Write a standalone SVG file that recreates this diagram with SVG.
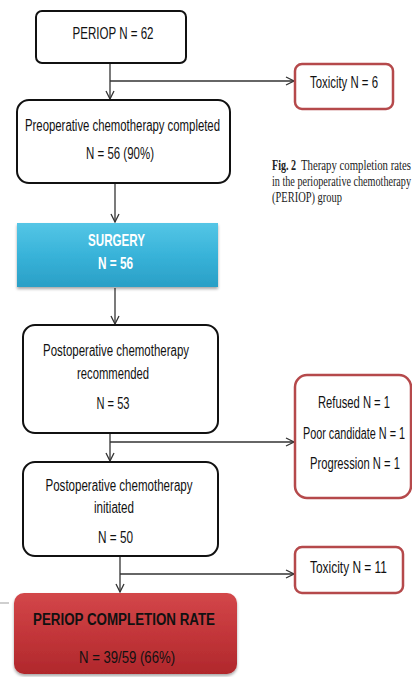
<svg xmlns="http://www.w3.org/2000/svg" width="412" height="677" viewBox="0 0 412 677">
  <defs>
    <linearGradient id="gradSurgery" x1="0" y1="0" x2="0" y2="1">
      <stop offset="0" stop-color="#55c6e6"/>
      <stop offset="0.5" stop-color="#38b3d9"/>
      <stop offset="1" stop-color="#2a9fc6"/>
    </linearGradient>
    <linearGradient id="gradResult" x1="0" y1="0" x2="0" y2="1">
      <stop offset="0" stop-color="#d3474a"/>
      <stop offset="0.5" stop-color="#c3363a"/>
      <stop offset="1" stop-color="#b0282c"/>
    </linearGradient>
    <filter id="shadow" x="-10%" y="-10%" width="120%" height="130%">
      <feGaussianBlur in="SourceAlpha" stdDeviation="1.5"/>
      <feOffset dx="0" dy="2" result="b"/>
      <feComponentTransfer><feFuncA type="linear" slope="0.35"/></feComponentTransfer>
      <feMerge><feMergeNode/><feMergeNode in="SourceGraphic"/></feMerge>
    </filter>
    <marker id="arrow" viewBox="0 0 10 10" refX="9" refY="5" markerWidth="10" markerHeight="10" markerUnits="userSpaceOnUse" orient="auto">
      <path d="M1,1 L9,5 L1,9" fill="none" stroke="#333" stroke-width="1.3"/>
    </marker>
  </defs>
  <style>
    .box { fill: #fff; stroke: #111; stroke-width: 2; }
    .exit { fill: #fff; stroke: #b5494b; stroke-width: 2.5; }
    .link { fill: none; stroke: #333; stroke-width: 1.3; }
    .t { font-family: "Liberation Sans Narrow", "Liberation Sans", Arial, sans-serif; font-size: 16px; fill: #111; text-anchor: middle; }
    .big { font-size: 17px; }
    .w { fill: #fff; font-weight: bold; }
    .cap { font-family: "Liberation Serif", "Times New Roman", serif; font-size: 14px; fill: #222; }
  </style>

  <rect width="412" height="677" fill="#fff"/>
  <!-- small stray rule at the left edge -->
  <rect x="0" y="602" width="9" height="2" fill="#cfcfcf"/>

  <g id="connectors">
    <path class="link" d="M110,63 V99" marker-end="url(#arrow)"/>
    <path class="link" d="M110,81 H294" marker-end="url(#arrow)"/>
    <path class="link" d="M115,183 V222" marker-end="url(#arrow)"/>
    <path class="link" d="M115,288 V324" marker-end="url(#arrow)"/>
    <path class="link" d="M110,433 V461" marker-end="url(#arrow)"/>
    <path class="link" d="M110,442 H294" marker-end="url(#arrow)"/>
    <path class="link" d="M120,556 V592" marker-end="url(#arrow)"/>
    <path class="link" d="M120,574 H294" marker-end="url(#arrow)"/>
  </g>

  <g id="periop">
    <rect class="box" x="36" y="11" width="150" height="52" rx="6"/>
    <text class="t big" x="113" y="39" textLength="81" lengthAdjust="spacingAndGlyphs">PERIOP N = 62</text>
  </g>

  <g id="toxicity-pre">
    <rect class="exit" x="295" y="64" width="98" height="45" rx="7"/>
    <text class="t" x="344" y="88" textLength="68" lengthAdjust="spacingAndGlyphs">Toxicity N = 6</text>
  </g>

  <g id="preop">
    <rect class="box" x="17" y="100" width="213" height="83" rx="12"/>
    <text class="t" x="122.5" y="131" textLength="195" lengthAdjust="spacingAndGlyphs">Preoperative chemotherapy completed</text>
    <text class="t" x="120" y="159" textLength="68" lengthAdjust="spacingAndGlyphs">N = 56 (90%)</text>
  </g>

  <!-- figure caption, set in a condensed serif -->
  <g id="caption" transform="scale(0.7,1)">
    <text class="cap" x="388.6" y="170" font-weight="bold" textLength="34.3" lengthAdjust="spacingAndGlyphs">Fig. 2</text>
    <text class="cap" x="430" y="170" textLength="157.1" lengthAdjust="spacingAndGlyphs">Therapy completion rates</text>
    <text class="cap" x="388.6" y="186" textLength="198.6" lengthAdjust="spacingAndGlyphs">in the perioperative chemotherapy</text>
    <text class="cap" x="388.6" y="202" textLength="100" lengthAdjust="spacingAndGlyphs">(PERIOP) group</text>
  </g>

  <g id="surgery">
    <rect x="17" y="223" width="201" height="64" fill="url(#gradSurgery)" filter="url(#shadow)"/>
    <text class="t big w" x="116.5" y="246" textLength="57" lengthAdjust="spacingAndGlyphs">SURGERY</text>
    <text class="t big w" x="115.5" y="269" textLength="35" lengthAdjust="spacingAndGlyphs">N = 56</text>
  </g>

  <g id="post-recommended">
    <rect class="box" x="23" y="325" width="195" height="108" rx="12"/>
    <text class="t" x="116" y="356" textLength="146" lengthAdjust="spacingAndGlyphs">Postoperative chemotherapy</text>
    <text class="t" x="113" y="379" textLength="72" lengthAdjust="spacingAndGlyphs">recommended</text>
    <text class="t" x="113" y="409" textLength="33" lengthAdjust="spacingAndGlyphs">N = 53</text>
  </g>

  <g id="not-started">
    <rect class="exit" x="295" y="375" width="116" height="123" rx="12"/>
    <g transform="scale(0.75,1)">
      <text class="t" x="472" y="408" textLength="96" lengthAdjust="spacingAndGlyphs">Refused N = 1</text>
      <text class="t" x="472" y="439" textLength="136" lengthAdjust="spacingAndGlyphs">Poor candidate N = 1</text>
      <text class="t" x="473.3" y="469" textLength="120" lengthAdjust="spacingAndGlyphs">Progression N = 1</text>
    </g>
  </g>

  <g id="post-initiated">
    <rect class="box" x="23" y="462" width="195" height="94" rx="12"/>
    <text class="t" x="119" y="491" textLength="147" lengthAdjust="spacingAndGlyphs">Postoperative chemotherapy</text>
    <text class="t" x="114" y="513" textLength="40" lengthAdjust="spacingAndGlyphs">initiated</text>
    <text class="t" x="115.5" y="543" textLength="35" lengthAdjust="spacingAndGlyphs">N = 50</text>
  </g>

  <g id="toxicity-post">
    <rect class="exit" x="295" y="547" width="108" height="46" rx="7"/>
    <text class="t" x="348.5" y="573" textLength="77" lengthAdjust="spacingAndGlyphs">Toxicity N = 11</text>
  </g>

  <g id="completion">
    <rect x="14" y="593" width="223" height="81" rx="10" fill="url(#gradResult)" filter="url(#shadow)"/>
    <text class="t" x="124" y="625" font-size="21" font-weight="bold" fill="#1a1414" textLength="182" lengthAdjust="spacingAndGlyphs">PERIOP COMPLETION RATE</text>
    <text class="t" x="127" y="663" font-size="20" fill="#1a1414" textLength="96" lengthAdjust="spacingAndGlyphs">N = 39/59 (66%)</text>
  </g>
</svg>
